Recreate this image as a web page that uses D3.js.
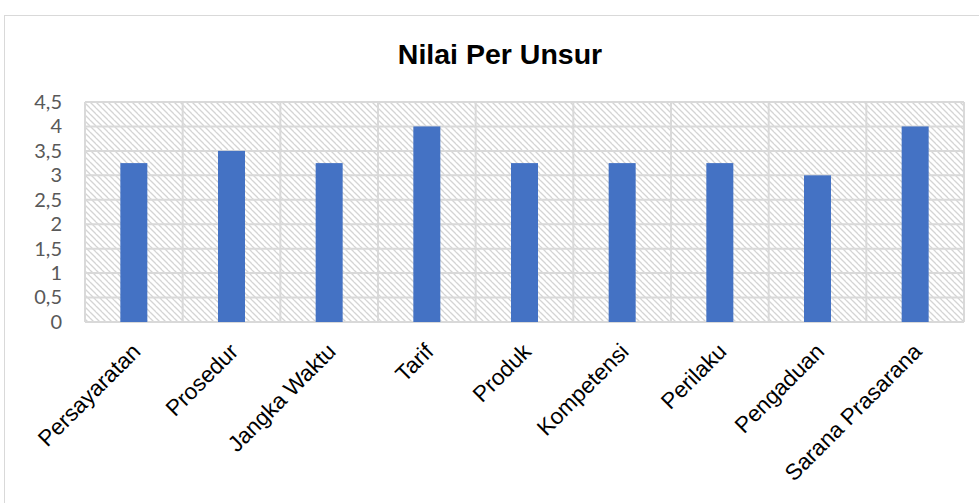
<!DOCTYPE html>
<html><head><meta charset="utf-8">
<script src="https://cdn.jsdelivr.net/npm/d3@7"></script>
<style>body{margin:0;background:#fff}</style>
</head><body>
<svg id="c" width="979" height="503"></svg>
<script>
const categories = ["Persayaratan","Prosedur","Jangka Waktu","Tarif","Produk","Kompetensi","Perilaku","Pengaduan","Sarana Prasarana"];
const values = [3.25,3.5,3.25,4,3.25,3.25,3.25,3,4];
const yTicks = [0,0.5,1,1.5,2,2.5,3,3.5,4,4.5];
const title = "Nilai Per Unsur";

const svg = d3.select("#c");
const m = {l:85, r:964, t:102, b:322};
svg.append("rect").attr("x",4.5).attr("y",15.5).attr("width",990).attr("height",500)
  .attr("fill","#fff").attr("stroke","#d9d9d9").attr("stroke-width",1);

const defs = svg.append("defs");
const pat = defs.append("pattern").attr("id","hatch").attr("patternUnits","userSpaceOnUse")
  .attr("width",6).attr("height",6);
pat.append("rect").attr("width",6).attr("height",6).attr("fill","#fff");
pat.append("path").attr("d","M0,0 L6,6 M-3,3 L0,6 M3,-3 L9,3 M-3,-3 L3,3 M3,3 L9,9")
  .attr("stroke","#d4d4d4").attr("stroke-width",1.3);

const x = d3.scaleBand().domain(categories).range([m.l,m.r]).paddingInner(0).paddingOuter(0);
const y = d3.scaleLinear().domain([0,4.5]).range([m.b,m.t]);

svg.append("rect").attr("x",m.l).attr("y",m.t).attr("width",m.r-m.l).attr("height",m.b-m.t)
  .attr("fill","url(#hatch)");

// gridlines
svg.append("g").selectAll("line").data(yTicks).join("line")
  .attr("x1",m.l).attr("x2",m.r).attr("y1",d=>y(d)).attr("y2",d=>y(d))
  .attr("stroke","#d9d9d9").attr("stroke-width",2);
const bounds = categories.map(c=>x(c)).concat([m.r]);
svg.append("g").selectAll("line").data(bounds).join("line")
  .attr("x1",d=>d).attr("x2",d=>d).attr("y1",m.t).attr("y2",m.b)
  .attr("stroke","#d9d9d9").attr("stroke-width",2);

// bars
const bw = 27;
svg.append("g").selectAll("rect").data(values).join("rect")
  .attr("x",(d,i)=>x(categories[i])+x.bandwidth()/2-bw/2)
  .attr("width",bw)
  .attr("y",d=>y(d)).attr("height",d=>y(0)-y(d))
  .attr("fill","#4472c4");

// y axis
const ya = d3.axisLeft(y).tickValues(yTicks).tickSize(0).tickPadding(0)
  .tickFormat(d=>String(d).replace(".",","));
const yg = svg.append("g").attr("transform",`translate(62,0)`).call(ya);
yg.select(".domain").remove();
yg.selectAll("text").attr("font-family","Lato, sans-serif").attr("font-size",20).attr("fill","#595959");

// x axis
const xa = d3.axisBottom(x).tickSize(0).tickPadding(0);
const xg = svg.append("g").attr("transform",`translate(0,${m.b})`).call(xa);
xg.select(".domain").remove();
xg.selectAll("text").attr("font-family","'Liberation Sans', Arial, sans-serif").attr("font-size",22.5)
  .attr("fill","#000").attr("text-anchor","end").attr("dy",0)
  .attr("transform","translate(8,31) rotate(-45)");

svg.append("text").attr("x",500).attr("y",64).attr("text-anchor","middle")
  .attr("font-family","'Liberation Sans', Arial, sans-serif").attr("font-weight","bold")
  .attr("font-size",28.5).attr("fill","#000").text(title);
</script>
</body></html>
